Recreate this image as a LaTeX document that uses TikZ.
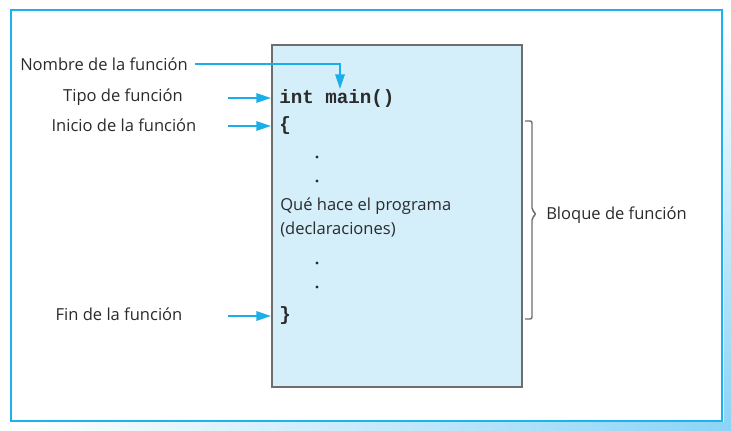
\documentclass[tikz,border=0pt]{standalone}
\usepackage{fontspec}
\setmainfont{Open Sans}
\newfontfamily\codefont{Liberation Mono}
\usetikzlibrary{arrows.meta}
\definecolor{frameblue}{HTML}{1DB2EC}
\definecolor{arrowblue}{HTML}{1AAFE8}
\definecolor{boxfill}{HTML}{D4EEFA}
\definecolor{boxline}{HTML}{6E6E6E}
\definecolor{shadowblue}{HTML}{8CD4F6}
\definecolor{ink}{HTML}{2B2B2B}
\tikzset{
  label/.style={font=\fontsize{12.4}{14}\selectfont, text=ink, inner sep=0pt},
  code/.style={font=\codefont\bfseries\fontsize{14.4}{16}\selectfont, text=ink, inner sep=0pt, anchor=west},
  dotmark/.style={circle, fill=ink, inner sep=0pt, minimum size=2.6pt},
  pointer/.style={draw=arrowblue, line width=1.6pt, -{Triangle[length=11pt,width=7pt]}},
}
\begin{document}
\begin{tikzpicture}[x=0.75pt,y=-0.75pt]
  \useasboundingbox (0,0) rectangle (731,431);
  % soft shadow below and right of the frame
  \shade[left color=white, right color=shadowblue, draw=none] (20,422) rectangle (731,431);
  \shade[top color=white, bottom color=shadowblue, draw=none] (724,20) rectangle (731,422);
  % outer frame
  \draw[frameblue, line width=2pt, fill=white] (11,10) rectangle (722,421);
  % program box
  \node[draw=boxline, line width=1.2pt, fill=boxfill, minimum width=250*0.75pt, minimum height=342*0.75pt, inner sep=0pt, anchor=north west] (box) at (271,44) {};

  % code lines
  \node[code] (sig) at (279,99) {int main()};
  \node[code] (open) at (279,126) {\{};
  \node[dotmark] (d1) at (317,157) {};
  \node[dotmark] (d2) at (317,181) {};
  \node[label, anchor=west] (what) at (280,206) {Qué hace el programa};
  \node[label, anchor=west] (decl) at (280,230) {(declaraciones)};
  \node[dotmark] (d3) at (317,263) {};
  \node[dotmark] (d4) at (317,287) {};
  \node[code] (close) at (279,316) {\}};

  % left labels
  \node[label, anchor=west] (nombre) at (20,64) {Nombre de la función};
  \node[label] (tipo) at (123,97) {Tipo de función};
  \node[label] (inicio) at (124,125) {Inicio de la función};
  \node[label] (fin) at (119,314) {Fin de la función};

  % pointers
  \coordinate (sigtop) at (340,89);
  \draw[pointer] (nombre.east) ++(7,0) coordinate (nstart) -- (nstart -| sigtop) -- (sigtop);
  \coordinate (a1) at (228,98);
  \coordinate (a2) at (228,126);
  \coordinate (a3) at (228,316);
  \draw[pointer] (a1) -- (a1 -| box.west);
  \draw[pointer] (a2) -- (a2 -| box.west);
  \draw[pointer] (a3) -- (a3 -| box.west);

  % square brace around the function body
  \draw[boxline, line width=1.1pt, rounded corners=1.5pt]
    (525,121) -- (532,121) -- (532,210) -- (536,214) -- (532,218) -- (532,319) -- (525,319);
  \node[label, anchor=west] (bloque) at (546,215) {Bloque de función};
\end{tikzpicture}
\end{document}
